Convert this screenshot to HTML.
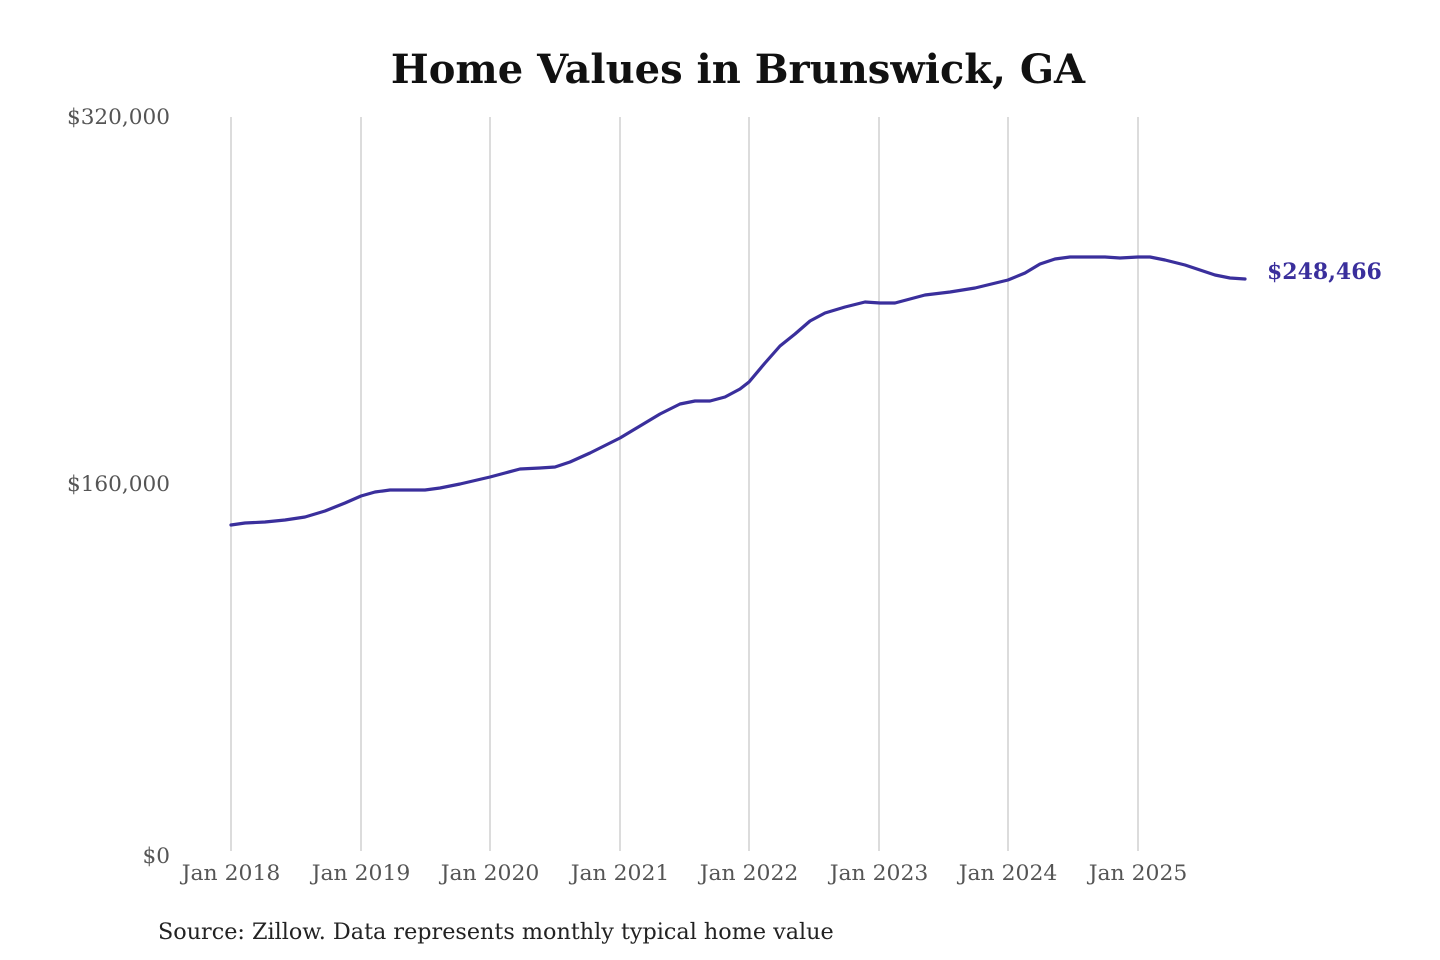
<!DOCTYPE html>
<html><head><meta charset="utf-8"><style>
html,body{margin:0;padding:0;background:#fff;width:1440px;height:960px;overflow:hidden}
svg text{font-family:"DejaVu Serif","Liberation Serif",serif}
</style></head><body>
<svg width="1440" height="960" viewBox="0 0 1440 960" xmlns="http://www.w3.org/2000/svg">
<text x="738" y="83" text-anchor="middle" font-size="40" font-weight="bold" fill="#111">Home Values in Brunswick, GA</text>
<g stroke="#c4c4c4" stroke-width="1.2">
<line x1="231" y1="117" x2="231" y2="851"/><line x1="361" y1="117" x2="361" y2="851"/>
<line x1="490" y1="117" x2="490" y2="851"/><line x1="620" y1="117" x2="620" y2="851"/>
<line x1="749" y1="117" x2="749" y2="851"/><line x1="879" y1="117" x2="879" y2="851"/>
<line x1="1008" y1="117" x2="1008" y2="851"/><line x1="1138" y1="117" x2="1138" y2="851"/>
</g>
<g font-size="21.6" fill="#555" text-anchor="end">
<text x="170" y="124">$320,000</text><text x="170" y="491">$160,000</text><text x="170" y="863">$0</text>
</g>
<g font-size="21.9" fill="#555" text-anchor="middle">
<text x="231" y="880">Jan 2018</text><text x="361" y="880">Jan 2019</text><text x="490" y="880">Jan 2020</text>
<text x="620" y="880">Jan 2021</text><text x="749" y="880">Jan 2022</text><text x="879" y="880">Jan 2023</text>
<text x="1008" y="880">Jan 2024</text><text x="1138" y="880">Jan 2025</text>
</g>
<polyline fill="none" stroke="#3a2f9c" stroke-width="3.2" stroke-linejoin="round" stroke-linecap="round" points="231,525 245,523 265,522 285,520 305,517 325,511 345,503 361,496 375,492 390,490 410,490 425,490 440,488 460,484 490,477 505,473 520,469 540,468 555,467 570,462 590,453 620,438 640,426 660,414 680,404 695,401 710,401 725,397 740,389 749,382 765,363 780,346 795,334 810,321 825,313 845,307 865,302 880,303 895,303 910,299 925,295 950,292 975,288 1008,280 1025,273 1040,264 1055,259 1070,257 1090,257 1105,257 1120,258 1138,257 1150,257 1165,260 1185,265 1200,270 1215,275 1230,278 1245,279"/>
<text x="1267" y="279" font-size="22" font-weight="bold" fill="#3a2f9c">$248,466</text>
<text x="158" y="939" font-size="22.3" fill="#222">Source: Zillow. Data represents monthly typical home value</text>
</svg>
</body></html>
